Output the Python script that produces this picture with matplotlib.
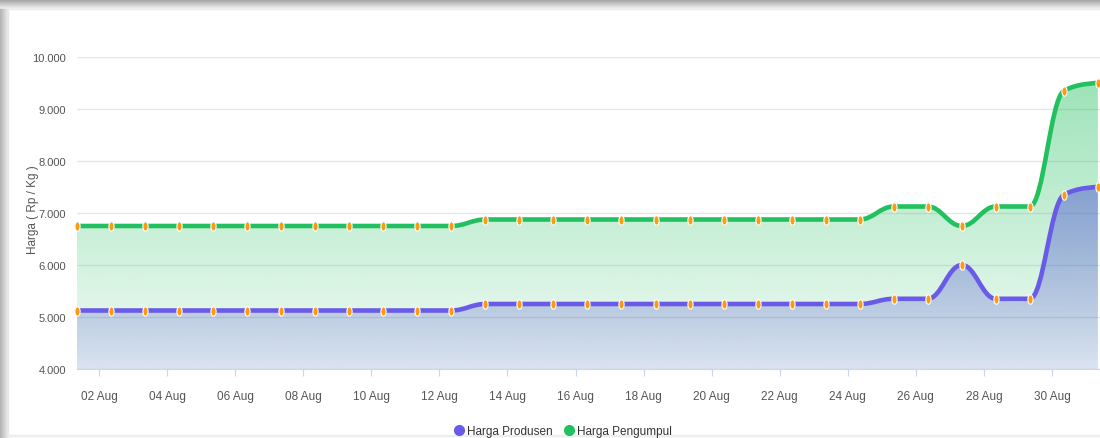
"""
Harga Produsen vs Harga Pengumpul, Agustus (areaspline chart).
"""

import numpy as np
import matplotlib.pyplot as plt
from matplotlib.path import Path
from matplotlib.patches import PathPatch, Rectangle
from matplotlib.lines import Line2D
from matplotlib.colors import to_rgb


# Data: day of August and prices (Rp / Kg)
DAYS = list(range(1, 32))
HARGA_PRODUSEN = [5125] * 12 + [5250] * 12 + [5350, 5350, 6000, 5350, 5350, 7350, 7500]
HARGA_PENGUMPUL = [6750] * 12 + [6875] * 12 + [7125, 7125, 6750, 7125, 7125, 9350, 9500]

TICK_DAYS = list(range(2, 31, 2))
TICK_LABELS = ["%02d Aug" % d for d in TICK_DAYS]
Y_TICKS = [4000, 5000, 6000, 7000, 8000, 9000, 10000]

BLUE = "#6a5ae8"
BLUE_FILL = "#555ad2"
GREEN = "#22c060"
ORANGE = "#ff9a10"

plt.rcParams["font.family"] = ["Liberation Sans Narrow", "Liberation Sans", "DejaVu Sans"]


def spline_path(xs, ys, y_base=None):
    """Highcharts-style spline (smoothing 1.5) as a matplotlib path."""
    smoothing = 1.5
    denom = smoothing + 1
    n = len(xs)
    verts = [(xs[0], ys[0])]
    codes = [Path.MOVETO]
    right_cont = [None] * n
    for i in range(1, n):
        x, y = xs[i], ys[i]
        left_x, left_y = x, y
        if i < n - 1:
            lx, ly = xs[i - 1], ys[i - 1]
            nx, ny = xs[i + 1], ys[i + 1]
            left_x = (smoothing * x + lx) / denom
            left_y = (smoothing * y + ly) / denom
            rx = (smoothing * x + nx) / denom
            ry = (smoothing * y + ny) / denom
            corr = 0
            if rx != left_x:
                corr = (ry - left_y) * (rx - x) / (rx - left_x) + y - ry
            left_y += corr
            ry += corr
            if left_y > ly and left_y > y:
                left_y = max(ly, y)
                ry = 2 * y - left_y
            elif left_y < ly and left_y < y:
                left_y = min(ly, y)
                ry = 2 * y - left_y
            if ry > ny and ry > y:
                ry = max(ny, y)
                left_y = 2 * y - ry
            elif ry < ny and ry < y:
                ry = min(ny, y)
                left_y = 2 * y - ry
            right_cont[i] = (rx, ry)
        prev = right_cont[i - 1] or (xs[i - 1], ys[i - 1])
        verts += [prev, (left_x, left_y), (x, y)]
        codes += [Path.CURVE4] * 3
    if y_base is not None:
        verts += [(xs[-1], y_base), (xs[0], y_base), (xs[0], ys[0])]
        codes += [Path.LINETO, Path.LINETO, Path.CLOSEPOLY]
    return Path(verts, codes)


def gradient_area(ax, xs, ys, color, a_top, a_bottom, y_base):
    """Area under the spline filled with a vertical alpha gradient."""
    area = PathPatch(spline_path(xs, ys, y_base), facecolor="none", edgecolor="none")
    ax.add_patch(area)
    grad = np.zeros((256, 1, 4))
    grad[:, 0, :3] = to_rgb(color)
    grad[:, 0, 3] = np.linspace(a_top, a_bottom, 256)
    im = ax.imshow(grad, extent=(xs[0], xs[-1], y_base, max(ys)),
                   aspect="auto", origin="upper", zorder=1)
    im.set_clip_path(area)


fig = plt.figure(figsize=(11, 4.39), dpi=100)

# screenshot frame (grey shadow top and left)
W, H = 1100, 439
for i in range(10):
    g = 0.62 + 0.035 * i
    fig.patches.append(Rectangle((0, 1 - (i + 1) / H), 1, 1 / H, transform=fig.transFigure,
                                 color=(g, g, g), zorder=-5))
for i in range(8):
    g = 0.70 + 0.03 * i
    fig.patches.append(Rectangle((i / W, 0), 1 / W, 1 - 10 / H, transform=fig.transFigure,
                                 color=(g, g, g), zorder=-5))
fig.patches.append(Rectangle((8 / W, 2 / H), 1, 1 / H, transform=fig.transFigure,
                             color="#eeeeee", zorder=-5))

ax = fig.add_axes([77 / W, 1 - 370 / H, 1 - 77 / W, (370 - 58) / H])

gradient_area(ax, DAYS, HARGA_PENGUMPUL, GREEN, 0.44, 0.06, 4000)
gradient_area(ax, DAYS, HARGA_PRODUSEN, BLUE_FILL, 0.52, 0.15, 4000)

for ys, color in [(HARGA_PENGUMPUL, GREEN), (HARGA_PRODUSEN, BLUE)]:
    ax.add_patch(PathPatch(spline_path(DAYS, ys), facecolor="none", edgecolor=color,
                           lw=3.3, zorder=3, clip_on=False, capstyle="round"))

theta = np.linspace(0, 2 * np.pi, 40)
ellipse = Path(np.column_stack([0.55 * np.cos(theta), np.sin(theta)]), closed=True)
for ys in [HARGA_PENGUMPUL, HARGA_PRODUSEN]:
    ax.plot(DAYS, ys, ls="none", marker=ellipse, ms=6.8, mfc=ORANGE, mec="white",
            mew=0.8, zorder=4, clip_on=False)

ax.set_xlim(1, 1 + (W - 77) / 34.03)
ax.set_ylim(4000, 10000)

# axis ticks sit between points (source ticks at midnight)
ax.set_xticks([d - 0.35 for d in TICK_DAYS])
ax.set_xticklabels(TICK_LABELS)
ax.set_yticks(Y_TICKS)
ax.set_yticklabels([f"{v:,}".replace(",", ".") for v in Y_TICKS])

ax.grid(axis="y", color="#e6e6e6", lw=1)
ax.set_axisbelow(True)
for side in ["top", "right", "left"]:
    ax.spines[side].set_visible(False)
ax.spines["bottom"].set_color("#ccd6eb")
ax.tick_params(axis="x", direction="out", length=5, color="#ccd6eb", pad=10,
               labelsize=8.5, labelcolor="#555555")
ax.tick_params(axis="y", length=0, pad=8, labelsize=8, labelcolor="#555555")

ax.set_ylabel("Harga ( Rp / Kg )", fontsize=8.5, color="#555555")
ax.yaxis.set_label_coords(-38 / 1023, 0.513)

handles = [
    Line2D([], [], ls="none", marker="o", ms=7, color=BLUE),
    Line2D([], [], ls="none", marker="o", ms=7, color=GREEN),
]
fig.legend(handles, ["Harga Produsen", "Harga Pengumpul"], loc="center",
           bbox_to_anchor=(563 / W, 1 - 432 / H), ncol=2, frameon=False,
           fontsize=8.5, handlelength=0.8, handletextpad=0.3, columnspacing=1.0,
           labelcolor="#333333")

fig.savefig("out.png", dpi=100)
